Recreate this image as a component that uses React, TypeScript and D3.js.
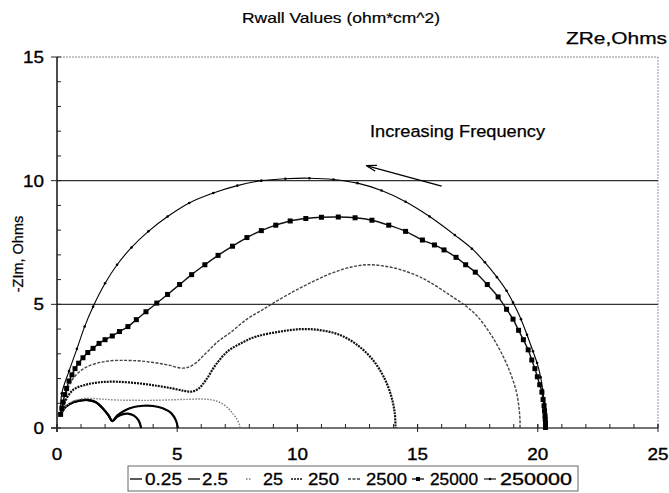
import React from "react";
import * as d3 from "d3";

const W = 669;
const H = 493;

const seriesNames = ["0.25", "2.5", "25", "250", "2500", "25000", "250000"];

const s025: [number, number][] = [
  [0.15, 0.55], [0.35, 0.85], [0.7, 1.05], [1.0, 1.12], [1.3, 1.13], [1.6, 1.05],
  [1.9, 0.8], [2.15, 0.5], [2.3, 0.28], [2.5, 0.45], [2.75, 0.56], [2.95, 0.58],
  [3.2, 0.5], [3.4, 0.3], [3.5, 0.0],
];
const s25a: [number, number][] = [
  [0.15, 0.55], [0.35, 0.85], [0.7, 1.05], [1.0, 1.12], [1.3, 1.13], [1.6, 1.05],
  [1.9, 0.8], [2.15, 0.5], [2.3, 0.28], [2.5, 0.5], [2.8, 0.7], [3.2, 0.85],
  [3.6, 0.9], [4.0, 0.89], [4.4, 0.8], [4.75, 0.6], [4.95, 0.3], [5.03, 0.0],
];
const s25: [number, number][] = [
  [0.15, 0.55], [0.35, 0.85], [0.6, 1.05], [0.9, 1.15], [1.25, 1.2], [1.8, 1.17],
  [2.5, 1.13], [3.3, 1.12], [4.0, 1.12], [4.8, 1.14], [5.5, 1.16], [6.1, 1.17],
  [6.6, 1.1], [7.0, 0.9], [7.3, 0.6], [7.5, 0.33], [7.6, 0.1], [7.6, 0.0],
];
const s250: [number, number][] = [
  [0.15, 0.55], [0.3, 1.0], [0.67, 1.54], [1.2, 1.75], [1.8, 1.85], [2.5, 1.87],
  [3.45, 1.8], [4.2, 1.7], [4.8, 1.6], [5.3, 1.5], [5.6, 1.47], [5.9, 1.6],
  [6.2, 1.95], [6.6, 2.55], [7.1, 3.1], [7.7, 3.45], [8.3, 3.7], [9.3, 3.9],
  [10.2, 4.0], [11.0, 3.95], [11.8, 3.75], [12.5, 3.35], [13.1, 2.8], [13.6, 2.05],
  [13.9, 1.3], [14.05, 0.6], [14.08, 0.0],
];
const s2500: [number, number][] = [
  [0.15, 0.55], [0.3, 1.2], [0.67, 2.0], [1.2, 2.45], [2.07, 2.7], [3.3, 2.72],
  [4.0, 2.65], [4.6, 2.55], [5.25, 2.42], [5.66, 2.55], [6.2, 3.03], [6.7, 3.5],
  [7.2, 3.85], [7.9, 4.4], [8.5, 4.75], [9.0, 5.05], [9.8, 5.5], [10.6, 5.9],
  [11.4, 6.25], [12.2, 6.5], [12.9, 6.6], [13.6, 6.55], [14.3, 6.4], [15.0, 6.15],
  [15.5, 5.9], [16.3, 5.4], [17.05, 4.9], [17.5, 4.5], [18.1, 3.7], [18.7, 2.6],
  [19.1, 1.5], [19.22, 0.8], [19.26, 0.3], [19.26, 0.0],
];
const s25000: [number, number][] = [
  [0.15, 0.55], [0.2, 0.8], [0.25, 1.05], [0.32, 1.35], [0.4, 1.6], [0.5, 1.9],
  [0.62, 2.15], [0.75, 2.4], [0.9, 2.62], [1.08, 2.84], [1.28, 3.05], [1.5, 3.22],
  [1.75, 3.42], [2.0, 3.57], [2.3, 3.72], [2.6, 3.9], [2.95, 4.1], [3.3, 4.38],
  [3.7, 4.7], [4.15, 5.05], [4.6, 5.4], [5.1, 5.8], [5.6, 6.2], [6.15, 6.6],
  [6.7, 6.98], [7.3, 7.35], [7.9, 7.7], [8.5, 7.98], [9.1, 8.2], [9.7, 8.37],
  [10.35, 8.47], [11.0, 8.52], [11.7, 8.53], [12.4, 8.5], [13.1, 8.4], [13.8, 8.2],
  [14.5, 7.95], [15.2, 7.6], [15.7, 7.4], [16.1, 7.2], [16.6, 6.9], [17.0, 6.6],
  [17.4, 6.3], [17.9, 5.8], [18.35, 5.3], [18.7, 4.8], [18.97, 4.4], [19.2, 3.95],
  [19.4, 3.57], [19.6, 3.16], [19.75, 2.75], [19.88, 2.4], [19.98, 2.07], [20.08, 1.75],
  [20.17, 1.45], [20.22, 1.15], [20.26, 0.9], [20.28, 0.7], [20.3, 0.5], [20.31, 0.35],
  [20.32, 0.2], [20.32, 0.1], [20.32, 0.02],
];
const s250000: [number, number][] = [
  [0.15, 0.55], [0.2, 1.4], [0.5, 2.3], [0.83, 3.2], [1.15, 4.1], [1.5, 4.9],
  [2.0, 5.85], [2.5, 6.6], [3.1, 7.3], [3.8, 7.95], [4.6, 8.55], [5.5, 9.1],
  [6.5, 9.5], [7.5, 9.8], [8.5, 10.0], [9.5, 10.08], [10.5, 10.1], [11.5, 10.05],
  [12.5, 9.9], [13.5, 9.6], [14.5, 9.15], [15.5, 8.55], [16.55, 7.8], [17.26, 7.25],
  [17.8, 6.7], [18.3, 6.1], [18.7, 5.55], [18.97, 5.07], [19.3, 4.4], [19.55, 3.77],
  [19.8, 3.1], [19.97, 2.63], [20.12, 2.05], [20.2, 1.54], [20.28, 1.0], [20.33, 0.5],
  [20.36, 0.2], [20.37, 0.02],
];

const seriesData = [s025, s25a, s25, s250, s2500, s25000, s250000];

const xTicks = [0, 5, 10, 15, 20, 25];
const yTicks = [0, 5, 10, 15];

const FONT = "'Liberation Sans', Arial, sans-serif";

type Style = { stroke: string; width: number; dash?: string; marker?: "square" | "dot" };
const styles: Style[] = [
  { stroke: "#000", width: 2.2 },
  { stroke: "#000", width: 2.2 },
  { stroke: "#777", width: 1.4, dash: "1.5,1.5" },
  { stroke: "#111", width: 2.2, dash: "2,1" },
  { stroke: "#444", width: 1.4, dash: "3,1.5" },
  { stroke: "#111", width: 1.4, marker: "square" },
  { stroke: "#000", width: 1.1, marker: "dot" },
];

const txtStyle = { stroke: "#000", strokeWidth: 0.35 } as const;

export default function App() {
  const x = d3.scaleLinear().domain([0, 25]).range([57, 658]);
  const y = d3.scaleLinear().domain([0, 15]).range([428, 57]);
  const line = d3
    .line<[number, number]>()
    .x((d) => x(d[0]))
    .y((d) => y(d[1]))
    .curve(d3.curveCatmullRom.alpha(0.5));

  const minorX = d3.range(0, 26, 1);
  const minorY = d3.range(0, 16, 1);

  const legendLine = [130, 188, 246, 291, 348, 412, 484];
  const legendTextX = [145, 202, 263, 308, 366, 430, 500];
  const legendTextW = [37, 26, 20, 31, 41, 48, 72];

  return (
    <svg width={W} height={H} style={{ position: "absolute", left: 0, top: 0, background: "#fff" }}>
      <text x={341} y={23} textAnchor="middle" fontFamily={FONT} fontSize={14.5} textLength={198} lengthAdjust="spacingAndGlyphs" {...txtStyle} strokeWidth={0.2}>
        Rwall Values (ohm*cm^2)
      </text>
      <text x={667} y={44} textAnchor="end" fontFamily={FONT} fontSize={17} textLength={101} lengthAdjust="spacingAndGlyphs" {...txtStyle} strokeWidth={0.25}>
        ZRe,Ohms
      </text>
      {/* frame */}
      <line x1={x(0)} x2={x(25)} y1={y(15)} y2={y(15)} stroke="#888" strokeDasharray="2,1" />
      <line x1={x(25)} x2={x(25)} y1={y(15)} y2={y(0)} stroke="#999" strokeDasharray="2,1" />
      {[5, 10].map((v) => (
        <line key={v} x1={x(0)} x2={x(25)} y1={y(v)} y2={y(v)} stroke="#333" strokeWidth={1.3} />
      ))}
      {/* axes */}
      <line x1={x(0)} x2={x(0)} y1={y(15)} y2={y(0) + 4} stroke="#000" strokeWidth={1.4} />
      <line x1={x(0) - 6} x2={x(25)} y1={y(0)} y2={y(0)} stroke="#444" strokeWidth={1.3} />
      {minorX.map((v) => (
        <line key={"mx" + v} x1={x(v)} x2={x(v)} y1={y(0)} y2={y(0) - 4} stroke="#222" />
      ))}
      {xTicks.map((v) => (
        <line key={"Mx" + v} x1={x(v)} x2={x(v)} y1={y(0) - 4} y2={y(0) + 4} stroke="#222" />
      ))}
      {minorY.map((v) => (
        <line key={"my" + v} x1={x(0)} x2={x(0) + 4} y1={y(v)} y2={y(v)} stroke="#222" />
      ))}
      {yTicks.map((v) => (
        <line key={"My" + v} x1={x(0) - 6} x2={x(0)} y1={y(v)} y2={y(v)} stroke="#222" />
      ))}
      {xTicks.map((v) => (
        <text key={"tx" + v} x={x(v)} y={460} textAnchor="middle" fontFamily={FONT} fontSize={17}
          textLength={String(v).length * 10.5} lengthAdjust="spacingAndGlyphs" {...txtStyle}>
          {v}
        </text>
      ))}
      {yTicks.map((v) => (
        <text key={"ty" + v} x={44} y={y(v) + 6} textAnchor="end" fontFamily={FONT} fontSize={17}
          textLength={String(v).length * 10.5} lengthAdjust="spacingAndGlyphs" {...txtStyle}>
          {v}
        </text>
      ))}
      <text transform={`translate(23,254) rotate(-90)`} textAnchor="middle" fontFamily={FONT} fontSize={14.5} {...txtStyle} strokeWidth={0.25}>
        -ZIm, Ohms
      </text>
      {/* series */}
      {seriesData.map((d, i) => {
        const st = styles[i];
        return (
          <g key={i}>
            <path d={line(d) || ""} fill="none" stroke={st.stroke} strokeWidth={st.width} strokeDasharray={st.dash} />
            {st.marker === "square" &&
              d.map((p, j) => (
                <rect key={j} x={x(p[0]) - 2.5} y={y(p[1]) - 2.5} width={5} height={5} fill="#000" />
              ))}
            {st.marker === "dot" &&
              d.map((p, j) => <circle key={j} cx={x(p[0])} cy={y(p[1])} r={1.3} fill="#000" />)}
          </g>
        );
      })}
      {/* annotation */}
      <text x={370} y={137} fontFamily={FONT} fontSize={16.3} textLength={175} lengthAdjust="spacingAndGlyphs" {...txtStyle} strokeWidth={0.25}>
        Increasing Frequency
      </text>
      <defs>
        <marker id="arr" viewBox="0 0 10 10" refX={9} refY={5} markerWidth={8} markerHeight={8} orient="auto">
          <path d="M0,2 L10,5 L0,8" fill="none" stroke="#000" strokeWidth={1.2} />
        </marker>
      </defs>
      <line x1={x(16.0)} y1={y(9.78)} x2={x(12.9)} y2={y(10.6)} stroke="#000" strokeWidth={1.3} markerEnd="url(#arr)" />
      {/* legend */}
      <rect x={128} y={466} width={450} height={25} fill="#fff" stroke="#666" />
      {seriesNames.map((n, i) => {
        const st = styles[i];
        const lx = legendLine[i];
        const len = i === 2 ? 6 : 12;
        return (
          <g key={n}>
            <line x1={lx} x2={lx + len} y1={479} y2={479} stroke={st.stroke} strokeWidth={Math.min(st.width, 1.3)} strokeDasharray={st.dash} />
            {st.marker === "square" && <rect x={lx + 4} y={477} width={4} height={4} fill="#000" />}
            {st.marker === "dot" && <circle cx={lx + 6} cy={479} r={1.2} fill="#000" />}
            <text x={legendTextX[i]} y={485} fontFamily={FONT} fontSize={16.5}
              textLength={legendTextW[i]} lengthAdjust="spacingAndGlyphs" {...txtStyle} strokeWidth={0.3}>
              {n}
            </text>
          </g>
        );
      })}
    </svg>
  );
}
